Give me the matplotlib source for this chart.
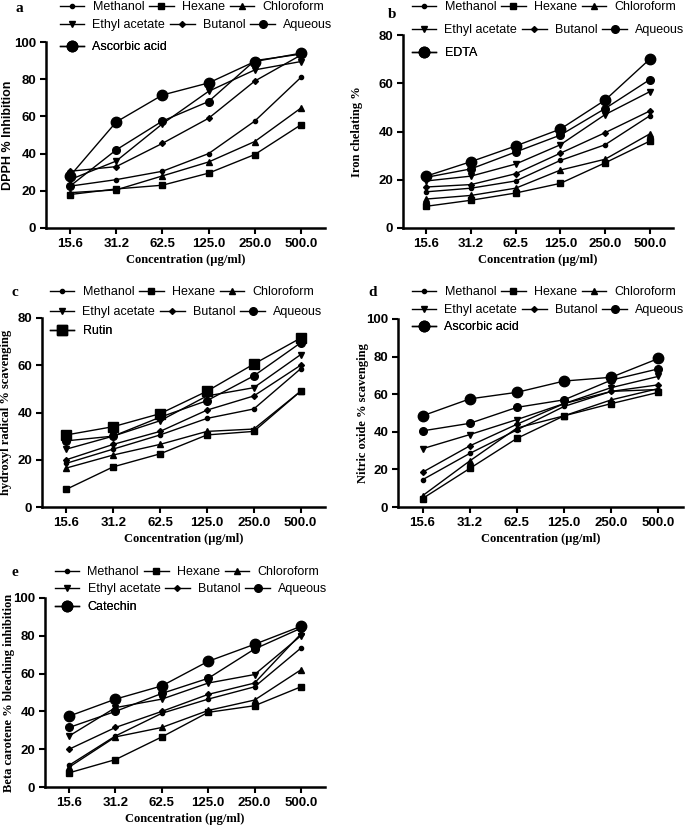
import matplotlib
matplotlib.use("Agg")

import matplotlib.pyplot as plt

concentrations = ["15.6", "31.2", "62.5", "125.0", "250.0", "500.0"]
extracts = ["Methanol", "Hexane", "Chloroform", "Ethyl acetate", "Butanol", "Aqueous"]

# panel a: DPPH
dpph_methanol = [22.5, 26, 30.5, 40, 57.5, 81]
dpph_hexane = [18, 21, 23, 29.5, 39.5, 55.5]
dpph_chloroform = [19, 20.5, 28, 35.5, 46.5, 64.5]
dpph_ethyl = [26, 36, 56, 73.5, 85, 89.5]
dpph_butanol = [30.5, 33, 45.5, 59, 79, 93]
dpph_aqueous = [22.5, 42, 57.5, 68, 90, 93.5]
dpph_std = [28, 57, 71.5, 78, 89.5, 94]

# panel b: iron chelating
iron_methanol = [15, 16.5, 19.5, 28, 34.5, 46.5]
iron_hexane = [9, 11.5, 14.5, 18.5, 27, 36]
iron_chloroform = [12, 13.5, 16.5, 24, 28.5, 39]
iron_ethyl = [19.5, 21.5, 26.5, 34.5, 47, 56.5]
iron_butanol = [17, 18, 22.5, 31, 39.5, 48.5]
iron_aqueous = [21, 24.5, 31.5, 38.5, 49.5, 61.5]
iron_std = [21.5, 27.5, 34, 41, 53, 70]

# panel c: hydroxyl radical
oh_methanol = [18.5, 24.5, 30.5, 37.5, 41.5, 58.5]
oh_hexane = [7.5, 17, 22.5, 30.5, 32, 49]
oh_chloroform = [16.5, 22, 26.5, 32, 33, 49]
oh_ethyl = [24.5, 30, 36.5, 47, 50.5, 64.5]
oh_butanol = [20, 26.5, 32, 41, 47, 60]
oh_aqueous = [28, 30, 38, 45, 55.5, 69.5]
oh_std = [30.5, 34, 39.5, 49, 60.5, 71.5]

# panel d: nitric oxide
no_methanol = [14.5, 28.5, 41, 53.5, 61.5, 62.5]
no_hexane = [4.5, 20.5, 36.5, 48.5, 55, 61]
no_chloroform = [6, 24.5, 42, 48.5, 57, 63]
no_ethyl = [31, 38.5, 46.5, 55, 63.5, 69.5]
no_butanol = [18.5, 32.5, 44, 55, 61.5, 65]
no_aqueous = [40.5, 44.5, 53, 57, 67.5, 73.5]
no_std = [48.5, 57.5, 61, 67, 69, 79]

# panel e: beta carotene bleaching
bc_methanol = [11.5, 27, 39, 46.5, 53, 73.5]
bc_hexane = [7.5, 14.5, 26.5, 39.5, 43, 53]
bc_chloroform = [10.5, 26.5, 31.5, 40.5, 46, 62]
bc_ethyl = [27, 42, 46.5, 55, 59.5, 80]
bc_butanol = [20, 31.5, 40, 49, 55, 81]
bc_aqueous = [31.5, 40, 49.5, 57.5, 73, 84]
bc_std = [37.5, 46.5, 53.5, 66.5, 75.5, 85]

MARKERS = ["o", "s", "^", "v", "D", "o", "o"]
SIZES = [3, 4, 4, 4, 3, 5.5, 7.5]

SERIF = "Liberation Serif"
SANS = "Liberation Sans"
W, H = 685, 827

fig = plt.figure(figsize=(W / 100, H / 100), dpi=100)


def px(x, y):
    return x / W, 1 - y / H


def panel(box, letter, series, std_name, std_marker, ylabel, ymax, letter_xy,
          leg_x, leg_rows, ylab_x, ylab_family=SERIF, ylab_size=9):
    l, t, r, b = box
    ax = fig.add_axes([l / W, 1 - b / H, (r - l) / W, (b - t) / H])
    x = range(len(concentrations))
    handles = []
    names = extracts + [std_name]
    for i, (vals, name) in enumerate(zip(series, names)):
        mk = std_marker if i == 6 else MARKERS[i]
        (h,) = ax.plot(x, vals, color="black", lw=1.0, marker=mk, ms=SIZES[i],
                       label=name)
        handles.append(h)
    ax.set_xlim(-0.52, 5.52)
    ax.set_ylim(0, ymax)
    ax.set_yticks(range(0, ymax + 1, 20))
    ax.set_xticks(list(x))
    ax.set_xticklabels(concentrations)
    for s in ("top", "right"):
        ax.spines[s].set_visible(False)
    for s in ("left", "bottom"):
        ax.spines[s].set_linewidth(1.8)
    ax.tick_params(width=1.5, length=4, labelsize=9.5, pad=3)
    for lab in ax.get_xticklabels() + ax.get_yticklabels():
        lab.set_fontweight("bold")
        lab.set_fontfamily(SANS)
    ax.set_xlabel("Concentration (µg/ml)", family=SERIF, fontweight="bold",
                  fontsize=9, labelpad=3)
    ax.set_ylabel(ylabel, family=ylab_family, fontweight="bold",
                  fontsize=ylab_size)
    # right edge of the rotated label, in pixels
    ax.yaxis.set_label_coords((ylab_x - l) / (r - l), 0.5)
    # one legend per row, like the original layout
    rows = [[0, 1, 2], [3, 4, 5], [6]]
    for idx, y in zip(rows, leg_rows):
        leg = ax.legend([handles[i] for i in idx], [names[i] for i in idx],
                        ncol=3, frameon=False, loc="center left",
                        bbox_to_anchor=px(leg_x, y),
                        bbox_transform=fig.transFigure,
                        prop={"family": SANS, "size": 9}, handlelength=1.95,
                        columnspacing=0.4, handletextpad=0.65,
                        borderaxespad=0, borderpad=0)
        ax.add_artist(leg)
    fx, fy = px(*letter_xy)
    fig.text(fx, fy, letter, family=SERIF, fontweight="bold",
             fontsize=11, ha="center", va="center")
    return ax


panel((46, 42, 325, 228), "a",
      [dpph_methanol, dpph_hexane, dpph_chloroform, dpph_ethyl, dpph_butanol,
       dpph_aqueous, dpph_std], "Ascorbic acid", "o", "DPPH % Inhibition", 100,
      (19, 9), 60, (7, 25, 47), 14, ylab_family=SANS, ylab_size=9)
panel((403, 35, 673, 228), "b",
      [iron_methanol, iron_hexane, iron_chloroform, iron_ethyl, iron_butanol,
       iron_aqueous, iron_std], "EDTA", "o", "Iron chelating %", 80,
      (392, 15), 412, (7, 30, 53), 363)
panel((42, 318, 325, 507), "c",
      [oh_methanol, oh_hexane, oh_chloroform, oh_ethyl, oh_butanol,
       oh_aqueous, oh_std], "Rutin", "s", "hydroxyl radical % scavenging", 80,
      (15, 292), 50, (292, 312, 331), 12)
panel((398, 319, 683, 507), "d",
      [no_methanol, no_hexane, no_chloroform, no_ethyl, no_butanol,
       no_aqueous, no_std], "Ascorbic acid", "o", "Nitric oxide % scavenging", 100,
      (373, 292), 412, (292, 310, 327), 369)
panel((45, 598, 325, 787), "e",
      [bc_methanol, bc_hexane, bc_chloroform, bc_ethyl, bc_butanol,
       bc_aqueous, bc_std], "Catechin", "o", "Beta carotene % bleaching inhibition",
      100, (15, 572), 55, (572, 589, 607), 15)

fig.savefig("out.png", dpi=100)
